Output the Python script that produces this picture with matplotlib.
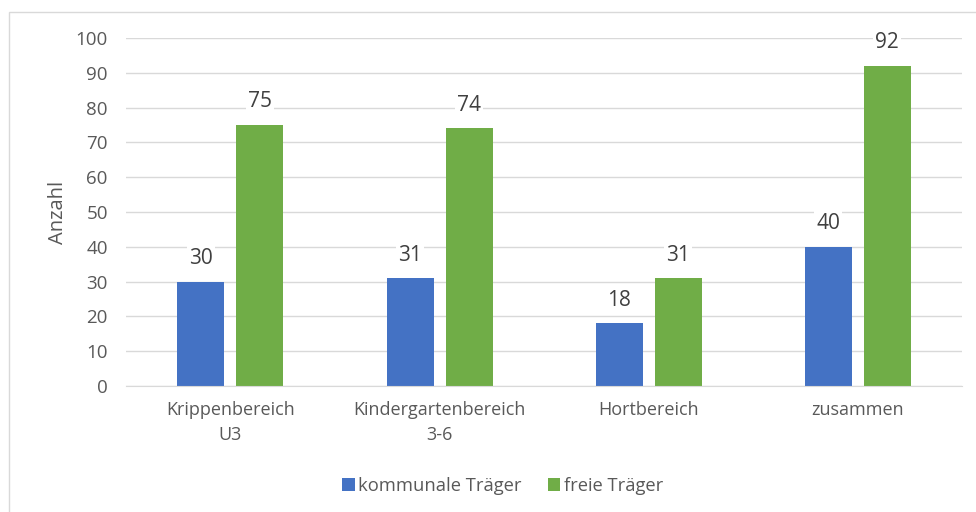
import numpy as np
import matplotlib.pyplot as plt
from matplotlib.patches import Rectangle

# -----------------------------
# Data
# -----------------------------
categories = ["Krippenbereich\nU3", "Kindergartenbereich\n3-6", "Hortbereich", "zusammen"]
kommunal = [30, 31, 18, 40]
frei = [75, 74, 31, 92]

blue = "#4472C4"
green = "#70AD47"
grey = "#595959"

plt.rcParams["font.family"] = ["Open Sans", "DejaVu Sans"]

# -----------------------------
# Plot
# -----------------------------
fig = plt.figure(figsize=(9.76, 5.12), dpi=100)
ax = fig.add_axes([0.129, 0.246, 0.857, 0.68])

x = np.arange(len(categories))
w = 0.225
off = 0.141
b1 = ax.bar(x - off, kommunal, w, color=blue, label="kommunale Träger", zorder=3)
b2 = ax.bar(x + off, frei, w, color=green, label="freie Träger", zorder=3)

for bars in (b1, b2):
    for b in bars:
        ax.text(b.get_x() + b.get_width() / 2, b.get_height() + 3.6, f"{b.get_height():.0f}",
                ha="center", va="bottom", fontsize=15, color="#404040", zorder=4,
                bbox=dict(facecolor="white", edgecolor="none", pad=1.5))

ax.set_xlim(-0.5, len(categories) - 0.5)
ax.set_ylim(0, 100)
ax.set_yticks(range(0, 101, 10))
ax.yaxis.grid(True, color="#D9D9D9", linewidth=1, zorder=0)
ax.set_xticks(x)
ax.set_xticklabels(categories, fontsize=13, color=grey, linespacing=1.5)
ax.tick_params(axis="y", labelsize=13.5, labelcolor=grey, length=0, pad=13)
ax.tick_params(axis="x", length=0, pad=11)
for s in ["top", "right", "left"]:
    ax.spines[s].set_visible(False)
ax.spines["bottom"].set_color("#D9D9D9")
ax.spines["bottom"].set_zorder(5)

ax.set_ylabel("Anzahl", fontsize=14.5, color=grey)
ax.yaxis.set_label_coords(-0.069, 0.5)

fig.legend(handles=[b1, b2], loc="center", bbox_to_anchor=(0.515, 0.051), ncol=2,
           frameon=False, fontsize=13.2, labelcolor=grey, handlelength=0.7,
           handleheight=0.7, handletextpad=0.2, columnspacing=1.4)

# chart border
fig.patches.append(Rectangle((9 / 976, -0.1), 1.2, 1 - 12 / 512 + 0.1, transform=fig.transFigure,
                             fill=False, edgecolor="#D9D9D9", linewidth=1))

fig.savefig("out.png", dpi=100)
